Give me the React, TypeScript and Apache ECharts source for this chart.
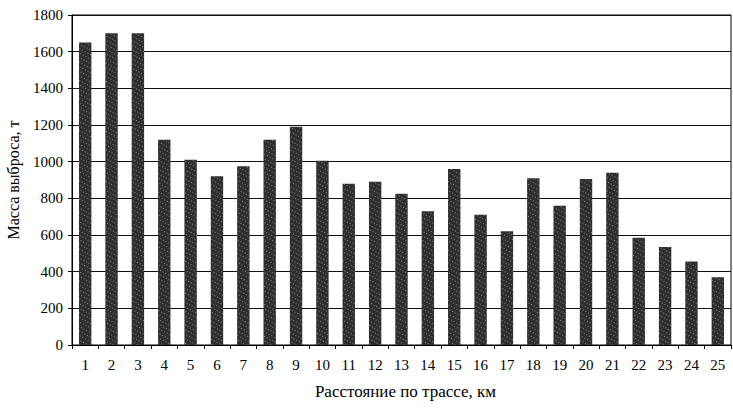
import React, { useEffect, useRef } from "react";
import * as echarts from "echarts";

const categories = ["1","2","3","4","5","6","7","8","9","10","11","12","13","14","15","16","17","18","19","20","21","22","23","24","25"];
const massValues = [1650, 1700, 1700, 1120, 1010, 920, 975, 1120, 1190, 1005, 880, 890, 825, 730, 960, 710, 620, 910, 760, 905, 940, 585, 535, 455, 370];
const yTicks = { min: 0, max: 1800, interval: 200 };
const xTitle = "Расстояние по трассе, км";
const yTitle = "Масса выброса, т";

export default function App() {
  const ref = useRef<HTMLDivElement>(null);
  useEffect(() => {
    if (!ref.current) return;
    const chart = echarts.init(ref.current, undefined, { renderer: "svg" });
    const font = "'Liberation Serif', 'DejaVu Serif', serif";
    chart.setOption({
      animation: false,
      backgroundColor: "#ffffff",
      aria: { enabled: true, label: { enabled: false }, decal: { show: true } },
      grid: {
        left: 72, right: 2, top: 15, bottom: 66,
        containLabel: false,
        outerBoundsMode: "none",
        show: true, borderColor: "#000", borderWidth: 1, backgroundColor: "transparent",
      },
      xAxis: {
        type: "category",
        data: categories,
        name: xTitle,
        nameLocation: "middle",
        nameGap: 38,
        nameTextStyle: { fontFamily: font, fontSize: 17, color: "#000", padding: [0, 0, 0, 8] },
        axisLine: { lineStyle: { color: "#000", width: 1 } },
        axisTick: { show: true, alignWithLabel: false, length: 4, lineStyle: { color: "#000" } },
        axisLabel: { fontFamily: font, fontSize: 15, color: "#000", margin: 12, interval: 0 },
      },
      yAxis: {
        type: "value",
        min: yTicks.min,
        max: yTicks.max,
        interval: yTicks.interval,
        name: yTitle,
        nameLocation: "middle",
        nameGap: 51,
        nameTextStyle: { fontFamily: font, fontSize: 16, color: "#000" },
        axisLine: { show: true, lineStyle: { color: "#000", width: 1 } },
        axisTick: { show: true, length: 4, lineStyle: { color: "#000" } },
        axisLabel: { fontFamily: font, fontSize: 15, color: "#000", margin: 9, formatter: (v: number) => String(v) },
        splitLine: { show: true, lineStyle: { color: "#111", width: 1 } },
      },
      series: [
        {
          type: "bar",
          data: massValues,
          barWidth: "47%",
          itemStyle: {
            color: "#2e2e2e",
            decal: {
              symbol: "rect",
              symbolSize: 1,
              color: "rgba(200,200,200,0.6)",
              dashArrayX: [1, 2],
              dashArrayY: [1, 3],
              rotation: 0.5,
            },
          },
        },
      ],
    });
    return () => chart.dispose();
  }, []);
  return (
    <div
      ref={ref}
      style={{ position: "fixed", left: 0, top: 0, width: 733, height: 411, background: "#fff" }}
    />
  );
}
